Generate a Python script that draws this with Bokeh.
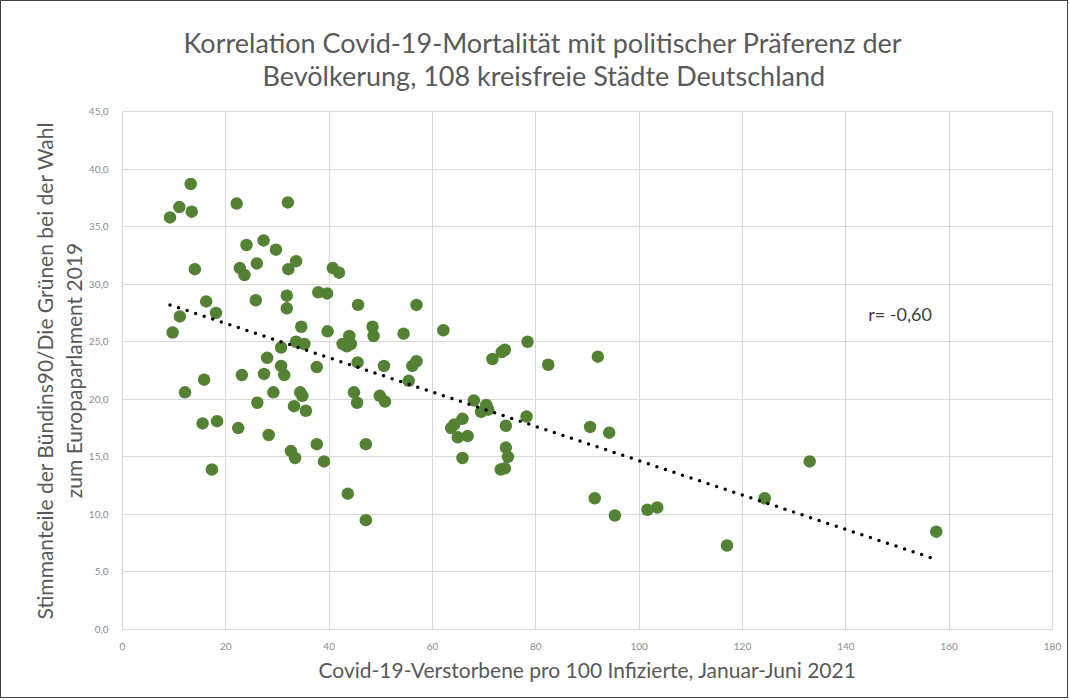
from bokeh.plotting import figure
from bokeh.models import Title, Label, FixedTicker, ColumnDataSource
from bokeh.embed import file_html
from bokeh.resources import INLINE

# ---- data ----
mortality = [
    9.2, 11.0, 13.2, 13.4, 22.1, 32.0, 24.0, 27.3, 29.7, 14.0,
    22.7, 23.6, 26.0, 33.6, 32.1, 40.7, 41.9, 16.2, 18.1, 11.1,
    9.7, 25.8, 31.8, 31.8, 37.9, 39.6, 34.6, 39.7, 33.6, 35.2,
    30.7, 42.6, 43.9, 43.4, 44.2, 28.0, 30.7, 31.3, 27.4, 23.1,
    15.8, 12.1, 37.6, 29.2, 34.4, 34.8, 26.1, 33.2, 35.5, 15.5,
    18.3, 22.4, 28.3, 37.6, 32.6, 33.4, 39.0, 17.3, 43.6, 45.6,
    56.9, 48.4, 48.6, 54.4, 62.1, 78.4, 73.4, 74.0, 71.6, 45.5,
    50.6, 56.1, 56.9, 55.4, 44.8, 45.4, 49.8, 50.8, 68.0, 70.4,
    69.4, 70.8, 78.2, 65.8, 63.6, 64.2, 64.9, 66.8, 74.2, 47.1,
    65.8, 74.2, 74.6, 73.2, 74.0, 47.1, 82.4, 92.0, 90.5, 94.2,
    91.4, 95.3, 101.6, 103.5, 117.0, 124.3, 133.0, 157.5,
]
green_share = [
    35.8, 36.7, 38.7, 36.3, 37.0, 37.1, 33.4, 33.8, 33.0, 31.3,
    31.4, 30.8, 31.8, 32.0, 31.3, 31.4, 31.0, 28.5, 27.5, 27.2,
    25.8, 28.6, 29.0, 27.9, 29.3, 29.2, 26.3, 25.9, 25.0, 24.8,
    24.5, 24.8, 25.5, 24.6, 24.8, 23.6, 22.9, 22.1, 22.2, 22.1,
    21.7, 20.6, 22.8, 20.6, 20.6, 20.3, 19.7, 19.4, 19.0, 17.9,
    18.1, 17.5, 16.9, 16.1, 15.5, 14.9, 14.6, 13.9, 11.8, 28.2,
    28.2, 26.3, 25.5, 25.7, 26.0, 25.0, 24.1, 24.3, 23.5, 23.2,
    22.9, 22.9, 23.3, 21.6, 20.6, 19.7, 20.3, 19.8, 19.9, 19.5,
    18.9, 19.1, 18.5, 18.3, 17.5, 17.8, 16.7, 16.8, 17.7, 16.1,
    14.9, 15.8, 15.0, 13.9, 14.0, 9.5, 23.0, 23.7, 17.6, 17.1,
    11.4, 9.9, 10.4, 10.6, 7.3, 11.4, 14.6, 8.5,
]
trend_x = [9.2, 157.4]
trend_y = [28.2, 6.1]
r_text = "r= -0,60"

x_ticks = [0, 20, 40, 60, 80, 100, 120, 140, 160, 180]
y_ticks = [0, 5, 10, 15, 20, 25, 30, 35, 40, 45]
y_tick_labels = ["0,0", "5,0", "10,0", "15,0", "20,0", "25,0", "30,0", "35,0", "40,0", "45,0"]

title_line1 = "Korrelation Covid-19-Mortalität mit politischer Präferenz der"
title_line2 = "Bevölkerung, 108 kreisfreie Städte Deutschland"
x_label = "Covid-19-Verstorbene pro 100 Infizierte, Januar-Juni 2021"
y_label = "Stimmanteile der Bündins90/Die Grünen bei der Wahl\nzum Europaparlament 2019"

FONT = "Lato"
GRID = "#d9d9d9"
TXT = "#595959"

p = figure(
    width=1068, height=698,
    x_range=(0, 180), y_range=(0, 45),
    output_backend="svg", toolbar_location=None,
    min_border_left=121, min_border_right=17,
    min_border_top=110, min_border_bottom=70,
)
p.styles = {"border": "1px solid #404040"}
p.outline_line_color = GRID
p.background_fill_color = "white"
p.border_fill_color = "white"

# grid
p.xaxis.ticker = FixedTicker(ticks=x_ticks)
p.yaxis.ticker = FixedTicker(ticks=y_ticks)
p.xgrid.grid_line_color = GRID
p.ygrid.grid_line_color = GRID
p.xgrid.grid_line_width = 1
p.ygrid.grid_line_width = 1
p.yaxis.major_label_overrides = {t: lab for t, lab in zip(y_ticks, y_tick_labels)}

for ax in (p.xaxis, p.yaxis):
    ax.axis_line_color = None
    ax.major_tick_line_color = None
    ax.minor_tick_line_color = None
    ax.major_label_text_font = FONT
    ax.major_label_text_font_size = "10px"
    ax.major_label_text_color = "#8c8c8c"
    ax.axis_label_text_font = FONT
    ax.axis_label_text_font_style = "normal"
    ax.axis_label_text_color = TXT

p.xaxis.axis_label = x_label
p.xaxis.axis_label_text_font_size = "21px"
p.xaxis.major_label_standoff = 7
p.xaxis.axis_label_standoff = 4

p.yaxis.axis_label = y_label
p.yaxis.axis_label_text_font_size = "21px"
p.yaxis.axis_label_text_line_height = 1.15
p.yaxis.major_label_standoff = 8
p.yaxis.axis_label_standoff = 0

# titles (first added sits closest to the plot)
p.add_layout(Title(text=title_line2, align="left", offset=140, standoff=39,
                   text_font=FONT, text_font_size="27px", text_font_style="normal",
                   text_color=TXT), "above")
p.add_layout(Title(text=title_line1, align="left", offset=61, standoff=-43,
                   text_font=FONT, text_font_size="27px", text_font_style="normal",
                   text_color=TXT), "above")

# data
src = ColumnDataSource(dict(x=mortality, y=green_share))
p.scatter("x", "y", source=src, size=12.5, fill_color="#548235", line_color=None)

# trend line
p.line(trend_x, trend_y, line_color="black", line_width=3.5,
       line_dash="0 9", line_cap="round")

# r label
p.add_layout(Label(x=142.0, y=27.4, text=r_text, text_font=FONT, text_font_size="18px",
                   text_color="#404040", text_baseline="middle", text_align="left",
                   background_fill_color="white", background_fill_alpha=1.0,
                   padding=12))

open("out.html", "w").write(file_html(p, INLINE))
